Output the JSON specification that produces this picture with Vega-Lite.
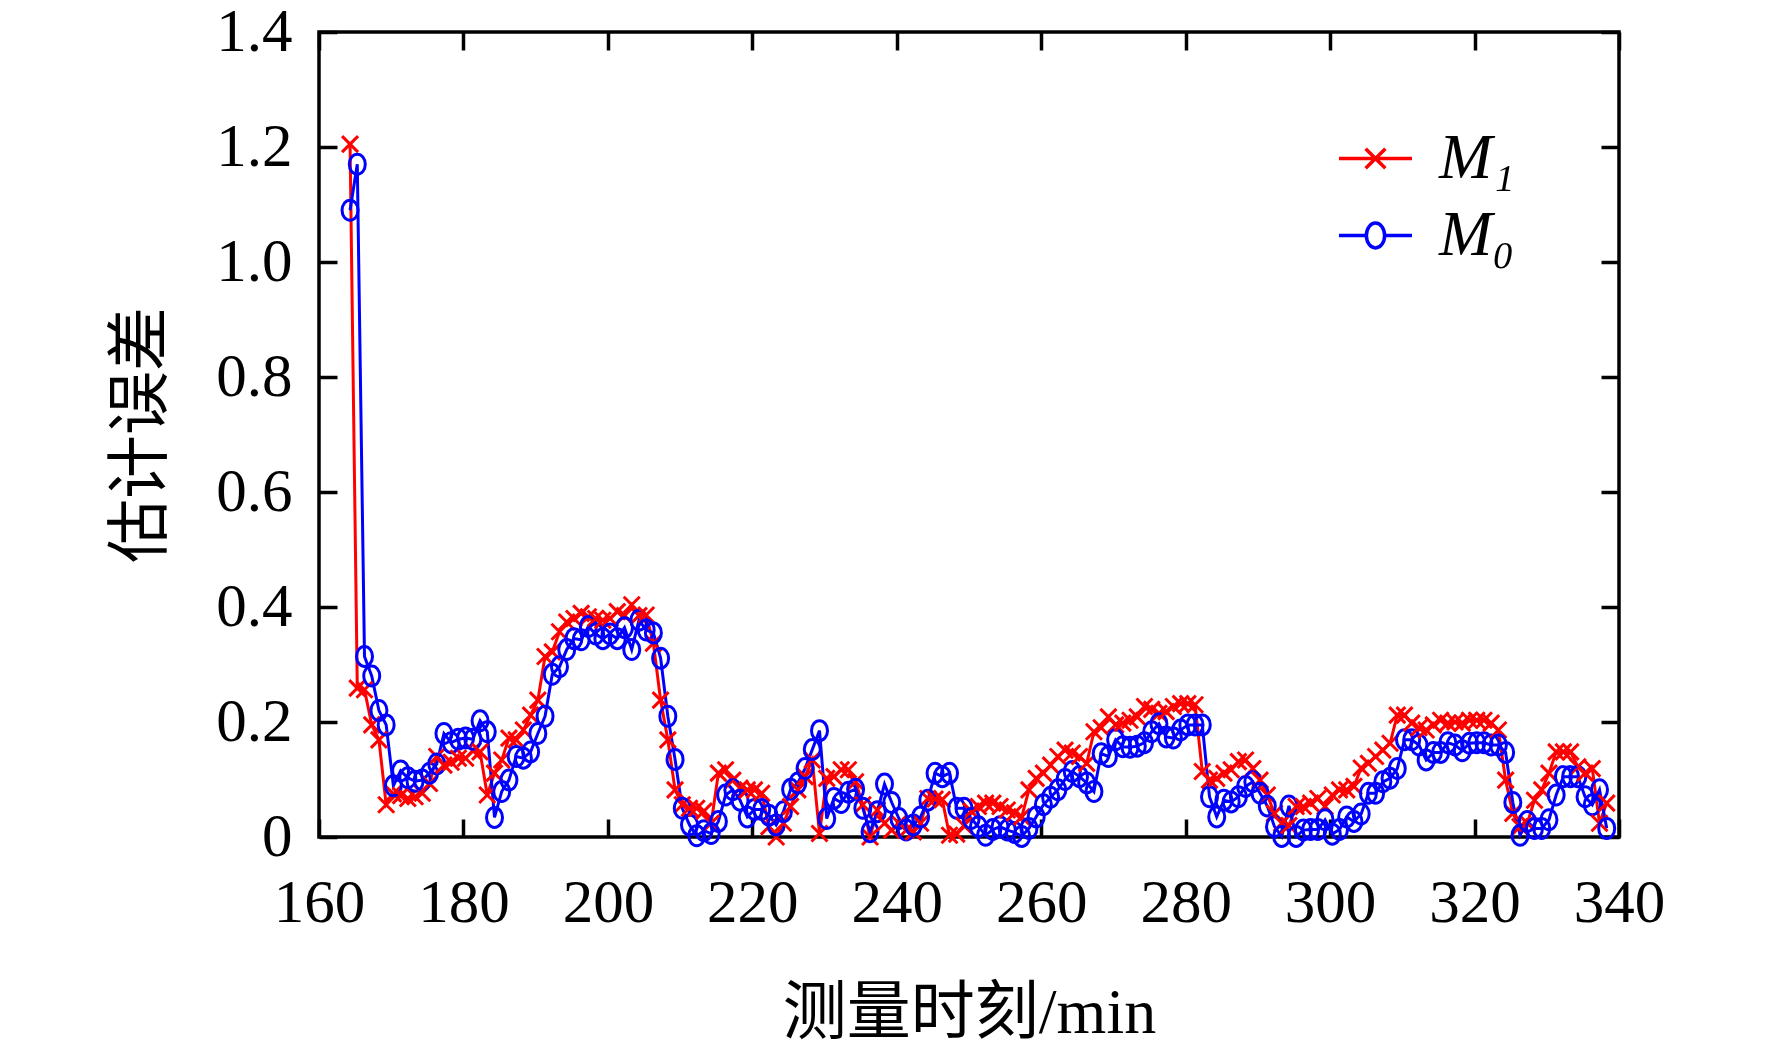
{
  "$schema": "https://vega.github.io/schema/vega-lite/v6.json",
  "width": 1300,
  "height": 805,
  "autosize": {"type": "none"},
  "padding": {"left": 319, "top": 32, "right": 153, "bottom": 220},
  "background": "white",
  "data": {
    "values": [
      {"t": 164.3, "M1": 1.205, "M0": 1.09},
      {"t": 165.3, "M1": 0.259, "M0": 1.17},
      {"t": 166.3, "M1": 0.256, "M0": 0.314},
      {"t": 167.3, "M1": 0.195, "M0": 0.28},
      {"t": 168.3, "M1": 0.169, "M0": 0.22},
      {"t": 169.3, "M1": 0.056, "M0": 0.195},
      {"t": 170.3, "M1": 0.075, "M0": 0.089},
      {"t": 171.3, "M1": 0.072, "M0": 0.115},
      {"t": 172.3, "M1": 0.067, "M0": 0.103},
      {"t": 173.3, "M1": 0.07, "M0": 0.097},
      {"t": 174.3, "M1": 0.076, "M0": 0.099},
      {"t": 175.3, "M1": 0.093, "M0": 0.111},
      {"t": 176.3, "M1": 0.14, "M0": 0.127},
      {"t": 177.3, "M1": 0.125, "M0": 0.18},
      {"t": 178.3, "M1": 0.13, "M0": 0.164},
      {"t": 179.3, "M1": 0.137, "M0": 0.17},
      {"t": 180.3, "M1": 0.137, "M0": 0.172},
      {"t": 181.3, "M1": 0.15, "M0": 0.17},
      {"t": 182.3, "M1": 0.148, "M0": 0.202},
      {"t": 183.3, "M1": 0.073, "M0": 0.183},
      {"t": 184.3, "M1": 0.111, "M0": 0.034},
      {"t": 185.3, "M1": 0.134, "M0": 0.079},
      {"t": 186.3, "M1": 0.172, "M0": 0.099},
      {"t": 187.3, "M1": 0.169, "M0": 0.14},
      {"t": 188.3, "M1": 0.186, "M0": 0.137},
      {"t": 189.3, "M1": 0.212, "M0": 0.148},
      {"t": 190.3, "M1": 0.238, "M0": 0.18},
      {"t": 191.3, "M1": 0.314, "M0": 0.21},
      {"t": 192.3, "M1": 0.322, "M0": 0.283},
      {"t": 193.3, "M1": 0.357, "M0": 0.296},
      {"t": 194.3, "M1": 0.374, "M0": 0.326},
      {"t": 195.3, "M1": 0.38, "M0": 0.345},
      {"t": 196.3, "M1": 0.389, "M0": 0.343},
      {"t": 197.3, "M1": 0.383, "M0": 0.366},
      {"t": 198.3, "M1": 0.38, "M0": 0.353},
      {"t": 199.3, "M1": 0.377, "M0": 0.345},
      {"t": 200.3, "M1": 0.38, "M0": 0.353},
      {"t": 201.3, "M1": 0.392, "M0": 0.345},
      {"t": 202.3, "M1": 0.385, "M0": 0.364},
      {"t": 203.3, "M1": 0.404, "M0": 0.326},
      {"t": 204.3, "M1": 0.385, "M0": 0.377},
      {"t": 205.3, "M1": 0.386, "M0": 0.36},
      {"t": 206.3, "M1": 0.337, "M0": 0.355},
      {"t": 207.3, "M1": 0.238, "M0": 0.311},
      {"t": 208.3, "M1": 0.169, "M0": 0.21},
      {"t": 209.3, "M1": 0.082, "M0": 0.135},
      {"t": 210.3, "M1": 0.056, "M0": 0.05},
      {"t": 211.3, "M1": 0.05, "M0": 0.021},
      {"t": 212.3, "M1": 0.05, "M0": 0.002},
      {"t": 213.3, "M1": 0.045, "M0": 0.011},
      {"t": 214.3, "M1": 0.024, "M0": 0.006},
      {"t": 215.3, "M1": 0.111, "M0": 0.027},
      {"t": 216.3, "M1": 0.117, "M0": 0.073},
      {"t": 217.3, "M1": 0.099, "M0": 0.082},
      {"t": 218.3, "M1": 0.085, "M0": 0.064},
      {"t": 219.3, "M1": 0.082, "M0": 0.035},
      {"t": 220.3, "M1": 0.082, "M0": 0.048},
      {"t": 221.3, "M1": 0.076, "M0": 0.048},
      {"t": 222.3, "M1": 0.018, "M0": 0.038},
      {"t": 223.3, "M1": 0.0, "M0": 0.021},
      {"t": 224.3, "M1": 0.024, "M0": 0.044},
      {"t": 225.3, "M1": 0.053, "M0": 0.083},
      {"t": 226.3, "M1": 0.082, "M0": 0.094},
      {"t": 227.3, "M1": 0.105, "M0": 0.119},
      {"t": 228.3, "M1": 0.134, "M0": 0.152},
      {"t": 229.3, "M1": 0.006, "M0": 0.185},
      {"t": 230.3, "M1": 0.102, "M0": 0.032},
      {"t": 231.3, "M1": 0.105, "M0": 0.067},
      {"t": 232.3, "M1": 0.117, "M0": 0.06},
      {"t": 233.3, "M1": 0.117, "M0": 0.078},
      {"t": 234.3, "M1": 0.096, "M0": 0.083},
      {"t": 235.3, "M1": 0.056, "M0": 0.05},
      {"t": 236.3, "M1": 0.0, "M0": 0.009},
      {"t": 237.3, "M1": 0.047, "M0": 0.044},
      {"t": 238.3, "M1": 0.024, "M0": 0.092},
      {"t": 239.3, "M1": 0.012, "M0": 0.06},
      {"t": 240.3, "M1": 0.024, "M0": 0.032},
      {"t": 241.3, "M1": 0.012, "M0": 0.012},
      {"t": 242.3, "M1": 0.009, "M0": 0.021},
      {"t": 243.3, "M1": 0.024, "M0": 0.035},
      {"t": 244.3, "M1": 0.067, "M0": 0.064},
      {"t": 245.3, "M1": 0.066, "M0": 0.111},
      {"t": 246.3, "M1": 0.065, "M0": 0.105},
      {"t": 247.3, "M1": 0.003, "M0": 0.111},
      {"t": 248.3, "M1": 0.005, "M0": 0.05},
      {"t": 249.3, "M1": 0.02, "M0": 0.05},
      {"t": 250.3, "M1": 0.045, "M0": 0.032},
      {"t": 251.3, "M1": 0.053, "M0": 0.018},
      {"t": 252.3, "M1": 0.059, "M0": 0.003},
      {"t": 253.3, "M1": 0.059, "M0": 0.013},
      {"t": 254.3, "M1": 0.053, "M0": 0.018},
      {"t": 255.3, "M1": 0.047, "M0": 0.012},
      {"t": 256.3, "M1": 0.042, "M0": 0.008},
      {"t": 257.3, "M1": 0.035, "M0": 0.001},
      {"t": 258.3, "M1": 0.082, "M0": 0.015},
      {"t": 259.3, "M1": 0.102, "M0": 0.035},
      {"t": 260.3, "M1": 0.111, "M0": 0.056},
      {"t": 261.3, "M1": 0.125, "M0": 0.069},
      {"t": 262.3, "M1": 0.14, "M0": 0.082},
      {"t": 263.3, "M1": 0.151, "M0": 0.1},
      {"t": 264.3, "M1": 0.146, "M0": 0.114},
      {"t": 265.3, "M1": 0.14, "M0": 0.105},
      {"t": 266.3, "M1": 0.128, "M0": 0.094},
      {"t": 267.3, "M1": 0.183, "M0": 0.079},
      {"t": 268.3, "M1": 0.19, "M0": 0.145},
      {"t": 269.3, "M1": 0.209, "M0": 0.14},
      {"t": 270.3, "M1": 0.195, "M0": 0.169},
      {"t": 271.3, "M1": 0.198, "M0": 0.157},
      {"t": 272.3, "M1": 0.203, "M0": 0.156},
      {"t": 273.3, "M1": 0.209, "M0": 0.158},
      {"t": 274.3, "M1": 0.227, "M0": 0.164},
      {"t": 275.3, "M1": 0.222, "M0": 0.183},
      {"t": 276.3, "M1": 0.215, "M0": 0.197},
      {"t": 277.3, "M1": 0.218, "M0": 0.174},
      {"t": 278.3, "M1": 0.227, "M0": 0.172},
      {"t": 279.3, "M1": 0.232, "M0": 0.186},
      {"t": 280.3, "M1": 0.232, "M0": 0.195},
      {"t": 281.3, "M1": 0.23, "M0": 0.195},
      {"t": 282.3, "M1": 0.114, "M0": 0.195},
      {"t": 283.3, "M1": 0.099, "M0": 0.07},
      {"t": 284.3, "M1": 0.102, "M0": 0.035},
      {"t": 285.3, "M1": 0.111, "M0": 0.064},
      {"t": 286.3, "M1": 0.117, "M0": 0.061},
      {"t": 287.3, "M1": 0.131, "M0": 0.07},
      {"t": 288.3, "M1": 0.134, "M0": 0.088},
      {"t": 289.3, "M1": 0.119, "M0": 0.096},
      {"t": 290.3, "M1": 0.099, "M0": 0.076},
      {"t": 291.3, "M1": 0.073, "M0": 0.054},
      {"t": 292.3, "M1": 0.041, "M0": 0.018},
      {"t": 293.3, "M1": 0.024, "M0": 0.001},
      {"t": 294.3, "M1": 0.02, "M0": 0.054},
      {"t": 295.3, "M1": 0.053, "M0": 0.001},
      {"t": 296.3, "M1": 0.053, "M0": 0.012},
      {"t": 297.3, "M1": 0.059, "M0": 0.013},
      {"t": 298.3, "M1": 0.067, "M0": 0.013},
      {"t": 299.3, "M1": 0.053, "M0": 0.03},
      {"t": 300.3, "M1": 0.073, "M0": 0.005},
      {"t": 301.3, "M1": 0.082, "M0": 0.013},
      {"t": 302.3, "M1": 0.082, "M0": 0.035},
      {"t": 303.3, "M1": 0.088, "M0": 0.027},
      {"t": 304.3, "M1": 0.12, "M0": 0.04},
      {"t": 305.3, "M1": 0.128, "M0": 0.076},
      {"t": 306.3, "M1": 0.14, "M0": 0.076},
      {"t": 307.3, "M1": 0.151, "M0": 0.096},
      {"t": 308.3, "M1": 0.163, "M0": 0.102},
      {"t": 309.3, "M1": 0.212, "M0": 0.119},
      {"t": 310.3, "M1": 0.212, "M0": 0.169},
      {"t": 311.3, "M1": 0.198, "M0": 0.169},
      {"t": 312.3, "M1": 0.19, "M0": 0.16},
      {"t": 313.3, "M1": 0.186, "M0": 0.134},
      {"t": 314.3, "M1": 0.195, "M0": 0.147},
      {"t": 315.3, "M1": 0.203, "M0": 0.147},
      {"t": 316.3, "M1": 0.198, "M0": 0.164},
      {"t": 317.3, "M1": 0.2, "M0": 0.16},
      {"t": 318.3, "M1": 0.198, "M0": 0.15},
      {"t": 319.3, "M1": 0.203, "M0": 0.163},
      {"t": 320.3, "M1": 0.203, "M0": 0.164},
      {"t": 321.3, "M1": 0.203, "M0": 0.164},
      {"t": 322.3, "M1": 0.198, "M0": 0.16},
      {"t": 323.3, "M1": 0.186, "M0": 0.16},
      {"t": 324.3, "M1": 0.099, "M0": 0.147},
      {"t": 325.3, "M1": 0.041, "M0": 0.06},
      {"t": 326.3, "M1": 0.018, "M0": 0.003},
      {"t": 327.3, "M1": 0.024, "M0": 0.027},
      {"t": 328.3, "M1": 0.064, "M0": 0.015},
      {"t": 329.3, "M1": 0.082, "M0": 0.015},
      {"t": 330.3, "M1": 0.111, "M0": 0.03},
      {"t": 331.3, "M1": 0.148, "M0": 0.073},
      {"t": 332.3, "M1": 0.148, "M0": 0.105},
      {"t": 333.3, "M1": 0.148, "M0": 0.105},
      {"t": 334.3, "M1": 0.122, "M0": 0.105},
      {"t": 335.3, "M1": 0.111, "M0": 0.07},
      {"t": 336.3, "M1": 0.119, "M0": 0.056},
      {"t": 337.3, "M1": 0.024, "M0": 0.082},
      {"t": 338.3, "M1": 0.059, "M0": 0.015}
    ]
  },
  "transform": [{"fold": ["M1", "M0"], "as": ["s", "v"]}],
  "encoding": {
    "x": {
      "field": "t",
      "type": "quantitative",
      "scale": {"domain": [160, 340], "nice": false, "zero": false}
    },
    "y": {
      "field": "v",
      "type": "quantitative",
      "scale": {"domain": [0, 1.4], "nice": false}
    },
    "color": {
      "field": "s",
      "type": "nominal",
      "scale": {"domain": ["M1", "M0"], "range": ["#ff0000", "#0000ff"]}
    }
  },
  "layer": [
    {
      "mark": {"type": "line", "strokeWidth": 3},
      "encoding": {
        "x": {
          "field": "t",
          "type": "quantitative",
          "title": "测量时刻/min",
          "axis": {
            "orient": "bottom",
            "values": [160, 180, 200, 220, 240, 260, 280, 300, 320, 340],
            "labelFlush": false,
            "labelOverlap": false,
            "labelPadding": 54,
            "titlePadding": 48
          }
        },
        "y": {
          "field": "v",
          "type": "quantitative",
          "title": "估计误差",
          "axis": {
            "orient": "left",
            "values": [0, 0.2, 0.4, 0.6, 0.8, 1.0, 1.2, 1.4],
            "labelExpr": "datum.value == 0 ? '0' : format(datum.value, '.1f')",
            "labelFlush": false,
            "labelOverlap": false,
            "labelPadding": 45,
            "titlePadding": 42
          }
        },
        "color": {"field": "s", "type": "nominal", "legend": null}
      }
    },
    {
      "mark": {"type": "point", "filled": false, "strokeWidth": 3, "size": 400, "opacity": 1},
      "encoding": {
        "x": {"field": "t", "type": "quantitative", "axis": null},
        "y": {"field": "v", "type": "quantitative", "axis": null},
        "color": {"field": "s", "type": "nominal", "legend": null},
        "shape": {
          "field": "s",
          "type": "nominal",
          "legend": null,
          "scale": {
            "domain": ["M1", "M0"],
            "range": [
              "M-0.8,-0.8L0.8,0.8M-0.8,0.8L0.8,-0.8",
              "M0,-1A0.8,1 0 1 1 0,1A0.8,1 0 1 1 0,-1Z"
            ]
          }
        }
      }
    },
    {
      "mark": {"type": "point", "filled": false, "opacity": 0},
      "encoding": {
        "x": {
          "field": "t",
          "type": "quantitative",
          "axis": {"orient": "top", "labels": false, "title": null, "values": [160, 180, 200, 220, 240, 260, 280, 300, 320, 340]}
        },
        "y": {
          "field": "v",
          "type": "quantitative",
          "axis": {"orient": "right", "labels": false, "title": null, "values": [0, 0.2, 0.4, 0.6, 0.8, 1.0, 1.2, 1.4]}
        },
        "color": {
          "field": "s",
          "type": "nominal",
          "legend": {
            "title": null,
            "orient": "none",
            "legendX": 1018,
            "legendY": 88,
            "symbolSize": 5329,
            "symbolOpacity": 1,
            "symbolStrokeWidth": 3.5,
            "symbolFillColor": "transparent",
            "labelFont": "Liberation Serif, DejaVu Serif",
            "labelFontSize": 64,
            "labelFontStyle": "italic",
            "labelColor": "black",
            "labelOffset": 25,
            "rowPadding": 6,
            "labelExpr": "datum.label == 'M1' ? 'M₁' : 'M₀'"
          }
        },
        "shape": {
          "field": "s",
          "type": "nominal",
          "scale": {
            "domain": ["M1", "M0"],
            "range": [
              "M-1,0H1M-0.27,-0.27L0.27,0.27M-0.27,0.27L0.27,-0.27",
              "M-1,0H-0.25M0.25,0H1M0,-0.34A0.25,0.34 0 1 1 0,0.34A0.25,0.34 0 1 1 0,-0.34Z"
            ]
          }
        }
      }
    }
  ],
  "resolve": {
    "scale": {"shape": "independent"},
    "legend": {"color": "independent", "shape": "independent"},
    "axis": {"x": "independent", "y": "independent"}
  },
  "config": {
    "view": {"stroke": "black", "strokeWidth": 3.5},
    "axis": {
      "grid": false,
      "domain": false,
      "ticks": true,
      "tickSize": -18,
      "tickWidth": 3.5,
      "tickColor": "black",
      "labelFont": "Liberation Serif",
      "labelFontSize": 61,
      "labelColor": "black",
      "titleFont": "Liberation Serif, Noto Sans CJK SC",
      "titleFontSize": 64,
      "titleFontWeight": "normal",
      "titleColor": "black"
    }
  }
}
